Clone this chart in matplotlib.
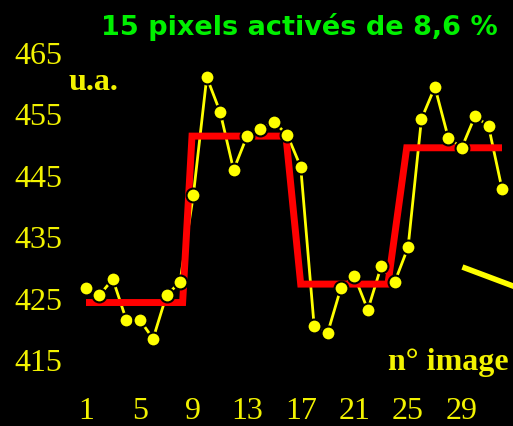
import matplotlib
matplotlib.use("Agg")
import matplotlib.pyplot as plt
from matplotlib.lines import Line2D

# =========================
# Data
# =========================

image_no = list(range(1, 33))
signal = [426.6, 425.4, 428.0, 421.4, 421.4, 418.3, 425.4, 427.5,
          441.7, 460.9, 455.2, 445.8, 451.3, 452.5, 453.6, 451.5,
          446.3, 420.4, 419.2, 426.6, 428.5, 423.0, 430.1, 427.5,
          433.2, 454.1, 459.3, 451.0, 449.4, 454.6, 452.9, 442.7]

# activation model (step levels)
model_x = [1, 8.2, 8.9, 15.9, 17.0, 23.5, 24.9, 32.0]
model_y = [424.2, 424.2, 451.3, 451.3, 427.2, 427.2, 449.4, 449.4]

y_ticks = [415, 425, 435, 445, 455, 465]
x_ticks = [1, 5, 9, 13, 17, 21, 25, 29]

title = "15 pixels activés de 8,6 %"

# =========================
# Figure
# =========================

W, H = 513, 427
fig = plt.figure(figsize=(W / 100, H / 100), dpi=100, facecolor="black")

# axes box in pixels: left 68, right 513, top 0, bottom 385
ax = fig.add_axes([68 / W, 1 - 385 / H, (513 - 68) / W, 385 / H])
ax.set_facecolor("black")
ax.set_xlim(-0.341, 32.82)
ax.set_ylim(410.93, 473.63)

for s in ax.spines.values():
    s.set_visible(False)

tick_color = "#f2f200"
ax.set_xticks(x_ticks)
ax.set_yticks(y_ticks)
ax.tick_params(length=0, colors=tick_color, labelsize=23)
ax.tick_params(axis="y", pad=4)
ax.tick_params(axis="x", pad=9)
for lab in ax.get_xticklabels() + ax.get_yticklabels():
    lab.set_family("Liberation Serif")

ax.plot(image_no, signal, color="#ffff00", lw=2, zorder=1)
ax.plot(model_x, model_y, color="#ff0000", lw=5, solid_capstyle="butt",
        solid_joinstyle="miter", zorder=2)
ax.plot(image_no, signal, ls="none", marker="o", ms=10,
        mfc="#ffff00", mec="black", mew=1.5, zorder=3)

# labels
fig.text(68 / W, 1 - 90 / H, "u.a.", color=tick_color, fontsize=23,
         family="Liberation Serif", weight="bold", ha="left", va="baseline")
fig.text(509 / W, 1 - 370 / H, "n° image", color=tick_color, fontsize=23,
         family="Liberation Serif", weight="bold", ha="right", va="baseline")

fig.text(299 / W, 1 - 27 / H, title, color="#00f000", fontsize=19.5,
         weight="bold", ha="center", va="center")

# pointer stroke at right edge
fig.add_artist(Line2D([465 / W, 1.0], [1 - 269 / H, 1 - 287 / H],
                      color="#ffff00", lw=4, transform=fig.transFigure))

fig.savefig("out.png", dpi=100, facecolor="black")
